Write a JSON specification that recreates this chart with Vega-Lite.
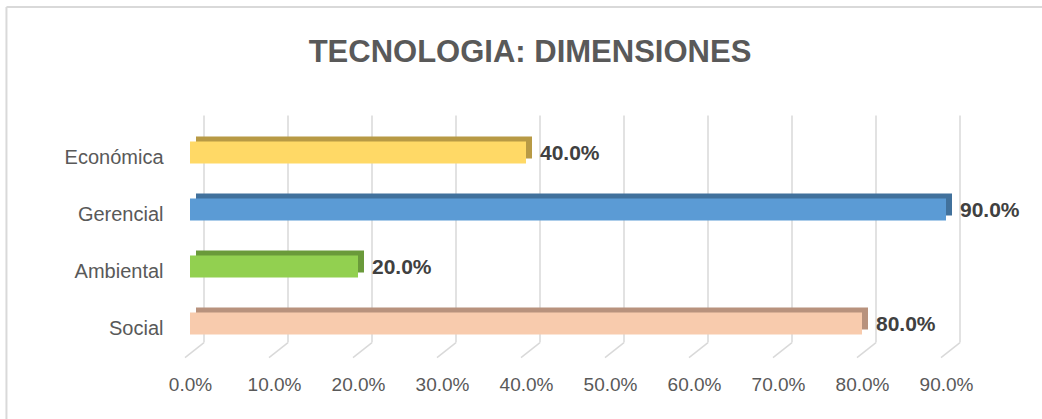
{
  "$schema": "https://vega.github.io/schema/vega-lite/v6.json",
  "width": 756,
  "height": 228,
  "autosize": {"type": "none"},
  "padding": {"left": 190, "top": 124, "right": 96, "bottom": 67},
  "background": "white",
  "title": {
    "text": "TECNOLOGIA: DIMENSIONES",
    "font": "Liberation Sans",
    "fontSize": 31,
    "fontWeight": "bold",
    "color": "#595959",
    "anchor": "middle",
    "frame": "group",
    "dx": -38,
    "offset": -63
  },
  "config": {"view": {"stroke": null}},
  "datasets": {
    "bars": [
      {"cat": "Económica", "value": 0.4},
      {"cat": "Gerencial", "value": 0.9},
      {"cat": "Ambiental", "value": 0.2},
      {"cat": "Social", "value": 0.8}
    ],
    "grid": [
      {"v": 0}, {"v": 0.1}, {"v": 0.2}, {"v": 0.3}, {"v": 0.4},
      {"v": 0.5}, {"v": 0.6}, {"v": 0.7}, {"v": 0.8}, {"v": 0.9}
    ],
    "frame": [{"x0": -0.2185, "x1": 1.2}]
  },
  "layer": [
    {
      "data": {"name": "grid"},
      "mark": {"type": "rule", "color": "#d9d9d9", "strokeWidth": 1.5, "xOffset": 14, "yOffset": -26, "y2Offset": 8},
      "encoding": {
        "x": {"field": "v", "type": "quantitative", "scale": {"domain": [0, 0.9], "nice": false, "zero": true},
              "axis": {"title": null, "domain": false, "ticks": false, "grid": false, "format": ".1%",
                       "values": [0, 0.1, 0.2, 0.3, 0.4, 0.5, 0.6, 0.7, 0.8, 0.9], "labelFlush": false,
                       "labelPadding": 23, "labelFontSize": 19, "labelFont": "Liberation Sans", "labelColor": "#595959"}},
        "y": {"datum": "Económica", "type": "nominal", "bandPosition": 0,
              "sort": ["Económica", "Gerencial", "Ambiental", "Social"],
              "scale": {"domain": ["Económica", "Gerencial", "Ambiental", "Social"], "paddingInner": 0.61, "paddingOuter": 0.305},
              "axis": {"title": null, "domain": false, "ticks": false, "labelPadding": 27, "labelFontSize": 20, "labelOffset": 5,
                       "labelFont": "Liberation Sans", "labelColor": "#595959"}},
        "y2": {"datum": "Social", "bandPosition": 1}
      }
    },
    {
      "data": {"name": "grid"},
      "mark": {"type": "rule", "color": "#d9d9d9", "strokeWidth": 1.5, "xOffset": 14, "x2Offset": -5, "yOffset": 8, "y2Offset": 23},
      "encoding": {
        "x": {"field": "v", "type": "quantitative"},
        "x2": {"field": "v"},
        "y": {"datum": "Social", "type": "nominal", "bandPosition": 1},
        "y2": {"datum": "Social", "bandPosition": 1}
      }
    },
    {
      "data": {"name": "frame"},
      "mark": {"type": "rule", "color": "#d9d9d9", "strokeWidth": 2, "yOffset": -134.5},
      "encoding": {
        "x": {"field": "x0", "type": "quantitative"},
        "x2": {"field": "x1"},
        "y": {"datum": "Económica", "type": "nominal", "bandPosition": 0}
      }
    },
    {
      "data": {"name": "frame"},
      "mark": {"type": "rule", "color": "#d9d9d9", "strokeWidth": 2, "yOffset": -134.5, "y2Offset": 100},
      "encoding": {
        "x": {"field": "x0", "type": "quantitative"},
        "y": {"datum": "Económica", "type": "nominal", "bandPosition": 0},
        "y2": {"datum": "Social", "bandPosition": 1}
      }
    },
    {
      "data": {"name": "bars"},
      "mark": {"type": "bar", "xOffset": 6, "x2Offset": 6, "yOffset": -5, "y2Offset": -5},
      "encoding": {
        "y": {"field": "cat", "type": "nominal", "sort": ["Económica", "Gerencial", "Ambiental", "Social"]},
        "x": {"field": "value", "type": "quantitative"},
        "color": {"field": "cat", "type": "nominal",
                  "scale": {"domain": ["Económica", "Gerencial", "Ambiental", "Social"], "range": ["#B89A45", "#41719C", "#6A9A3A", "#B8927D"]},
                  "legend": null}
      }
    },
    {
      "data": {"name": "bars"},
      "mark": {"type": "bar"},
      "encoding": {
        "y": {"field": "cat", "type": "nominal", "sort": ["Económica", "Gerencial", "Ambiental", "Social"]},
        "x": {"field": "value", "type": "quantitative"},
        "color": {"field": "cat", "type": "nominal",
                  "scale": {"domain": ["Económica", "Gerencial", "Ambiental", "Social"], "range": ["#FFD966", "#5B9BD5", "#92D050", "#F8CBAD"]},
                  "legend": null}
      }
    },
    {
      "data": {"name": "bars"},
      "mark": {"type": "text", "align": "left", "baseline": "middle", "dx": 14, "dy": 1, "fontWeight": "bold", "fontSize": 21,
               "font": "Liberation Sans", "color": "#404040"},
      "encoding": {
        "y": {"field": "cat", "type": "nominal", "sort": ["Económica", "Gerencial", "Ambiental", "Social"]},
        "x": {"field": "value", "type": "quantitative"},
        "text": {"field": "value", "type": "quantitative", "format": ".1%"}
      }
    }
  ],
  "resolve": {"scale": {"color": "independent"}}
}
